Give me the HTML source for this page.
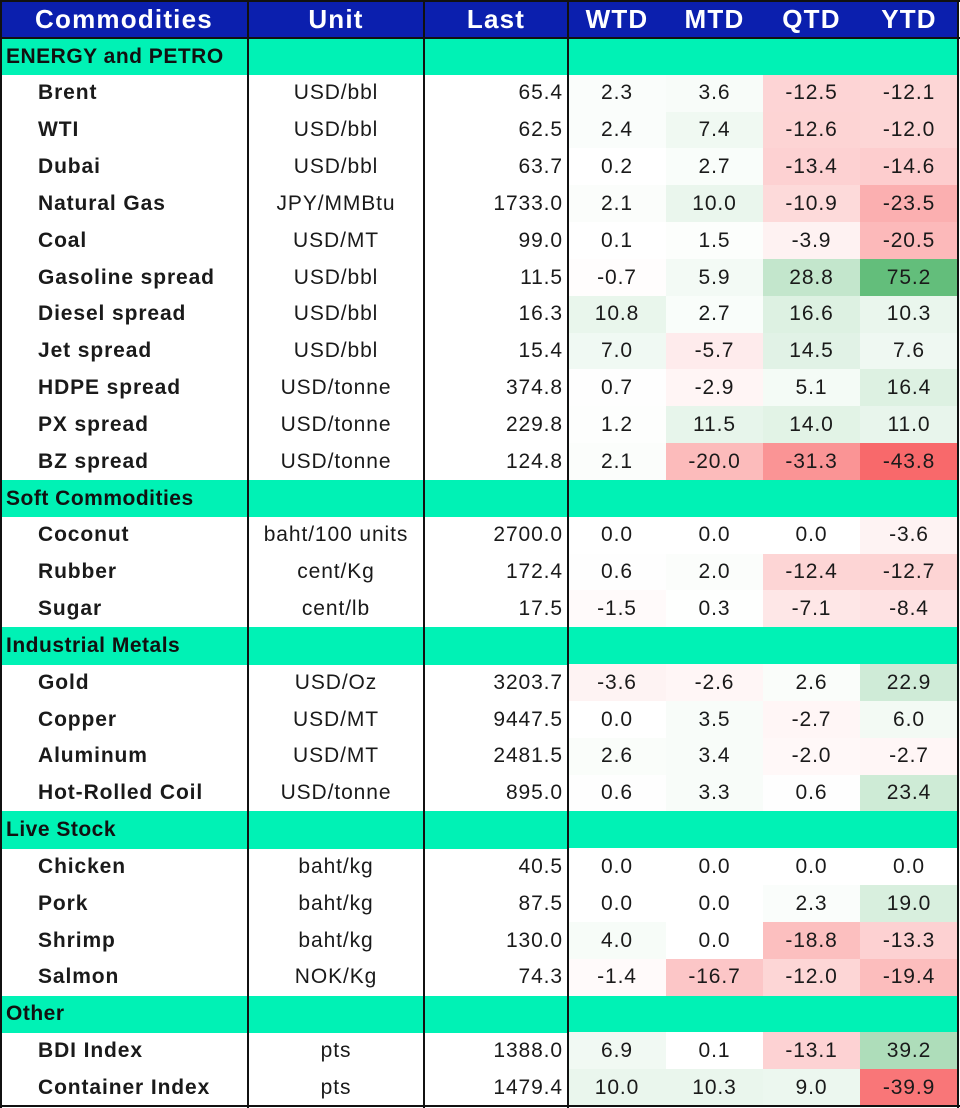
<!DOCTYPE html>
<html><head><meta charset="utf-8"><style>
body{margin:0;width:960px;height:1108px;background:#fff;font-family:"Liberation Sans",sans-serif;position:relative;overflow:hidden}
.c{position:absolute;box-sizing:border-box;display:flex;align-items:center;font-size:21px;letter-spacing:0.9px;color:#1a1a1a;white-space:nowrap}
.h{background:#0b1fae;color:#fff;font-weight:bold;font-size:26px;letter-spacing:1.2px;justify-content:center}
.s{background:#00f2b5;font-weight:bold;font-size:21px;letter-spacing:0.5px;color:#111}
.l{position:absolute;background:#111}
</style></head><body>
<div id="t"></div>
<script>
var cols=[0,248,424,568,666,763,860,958];
var rows=[
["S","ENERGY and PETRO"],
["Brent","USD/bbl","65.4",2.3,3.6,-12.5,-12.1],
["WTI","USD/bbl","62.5",2.4,7.4,-12.6,-12.0],
["Dubai","USD/bbl","63.7",0.2,2.7,-13.4,-14.6],
["Natural Gas","JPY/MMBtu","1733.0",2.1,10.0,-10.9,-23.5],
["Coal","USD/MT","99.0",0.1,1.5,-3.9,-20.5],
["Gasoline spread","USD/bbl","11.5",-0.7,5.9,28.8,75.2],
["Diesel spread","USD/bbl","16.3",10.8,2.7,16.6,10.3],
["Jet spread","USD/bbl","15.4",7.0,-5.7,14.5,7.6],
["HDPE spread","USD/tonne","374.8",0.7,-2.9,5.1,16.4],
["PX spread","USD/tonne","229.8",1.2,11.5,14.0,11.0],
["BZ spread","USD/tonne","124.8",2.1,-20.0,-31.3,-43.8],
["S","Soft Commodities"],
["Coconut","baht/100 units","2700.0",0.0,0.0,0.0,-3.6],
["Rubber","cent/Kg","172.4",0.6,2.0,-12.4,-12.7],
["Sugar","cent/lb","17.5",-1.5,0.3,-7.1,-8.4],
["S","Industrial Metals"],
["Gold","USD/Oz","3203.7",-3.6,-2.6,2.6,22.9],
["Copper","USD/MT","9447.5",0.0,3.5,-2.7,6.0],
["Aluminum","USD/MT","2481.5",2.6,3.4,-2.0,-2.7],
["Hot-Rolled Coil","USD/tonne","895.0",0.6,3.3,0.6,23.4],
["S","Live Stock"],
["Chicken","baht/kg","40.5",0.0,0.0,0.0,0.0],
["Pork","baht/kg","87.5",0.0,0.0,2.3,19.0],
["Shrimp","baht/kg","130.0",4.0,0.0,-18.8,-13.3],
["Salmon","NOK/Kg","74.3",-1.4,-16.7,-12.0,-19.4],
["S","Other"],
["BDI Index","pts","1388.0",6.9,0.1,-13.1,39.2],
["Container Index","pts","1479.4",10.0,10.3,9.0,-39.9]];
function mix(a,f){return "rgb("+a.map(function(x){return Math.round(255+(x-255)*f)}).join(",")+")";}
function col(v){if(v<0)return mix([248,105,107],Math.min(1,v/-43.8));return mix([99,190,123],Math.min(1,v/75.2));}
var H="";var top0=38,rh=(1106-38)/29;
function cell(x0,x1,y,h,cls,txt,st){H+='<div class="c '+cls+'" style="left:'+x0+'px;width:'+(x1-x0)+'px;top:'+y+'px;height:'+h+'px;'+(st||'')+'">'+txt+'</div>';}
var hd=["Commodities","Unit","Last","WTD","MTD","QTD","YTD"];
for(var i=0;i<7;i++)cell(cols[i],cols[i+1],0,38,"h",hd[i]);
rows.forEach(function(r,k){var y=top0+k*rh,h=rh+0.5;
 if(r[0]=="S"){cell(0,958,y,h,"s",r[1],"padding-left:6px");return;}
 cell(0,248,y,h,"",r[0],"font-weight:bold;padding-left:38px");
 cell(248,424,y,h,"",r[1],"justify-content:center");
 cell(424,568,y,h,"",r[2],"justify-content:flex-end;padding-right:5px");
 for(var j=0;j<4;j++)cell(cols[3+j],cols[4+j],y,h,"",r[3+j].toFixed(1),"justify-content:center;background:"+col(r[3+j]));
});
[0,248,424,568].forEach(function(x){H+='<div class="l" style="left:'+(x==0?0:x-1)+'px;top:0;width:2px;height:1108px"></div>';});
H+='<div class="l" style="left:957px;top:0;width:2px;height:1108px"></div>';
H+='<div class="l" style="left:0;top:0;width:960px;height:2px"></div>';
H+='<div class="l" style="left:0;top:1105px;width:960px;height:2px"></div>';
H+='<div class="l" style="left:0;top:37px;width:960px;height:2px"></div>';
document.getElementById("t").innerHTML=H;
</script>
</body></html>
